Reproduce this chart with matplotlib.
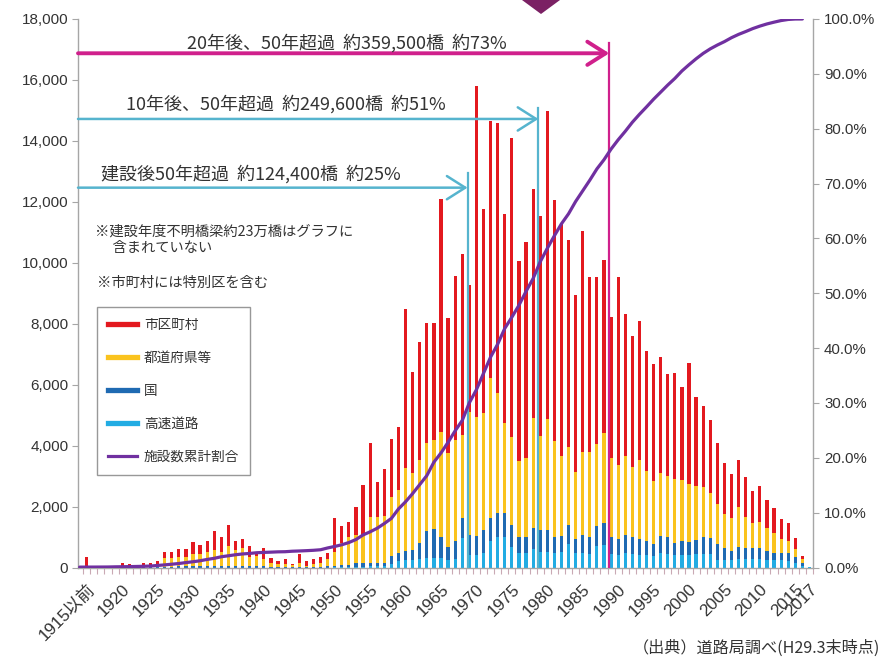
import numpy as np
import matplotlib
matplotlib.use('Agg')
import matplotlib.pyplot as plt
from matplotlib.lines import Line2D
from matplotlib.patches import Polygon

# ---------------- data ----------------
categories = ['1915以前'] + [str(y) for y in range(1916, 2018)]

# 市区町村
municipal = [325, 15, 12, 20, 26, 90, 65, 50, 90, 100,
             135, 220, 200, 255, 255, 410, 300, 350, 635, 490,
             679, 295, 295, 350, 90, 360, 162, 108, 155, 33,
             305, 163, 170, 197, 195, 1095, 567, 488, 928, 1643,
             2427, 1147, 1530, 1880, 2065, 5220, 3315, 3860, 3940, 3850,
             7638, 4432, 5380, 5950, 4157, 10861, 6684, 8455, 8863, 6858,
             9792, 6565, 7086, 7513, 7219, 10116, 7898, 7630, 6785, 5800,
             7245, 5745, 5502, 5666, 4646, 6181, 4650, 4288, 4572, 3938,
             3821, 3788, 3347, 3478, 3042, 3960, 2930, 2668, 2386, 1992,
             1664, 1454, 1552, 1293, 1070, 1172, 929, 821, 657, 581,
             381, 118, 10]
# 都道府県等
prefecture = [10, 5, 4, 6, 8, 35, 30, 20, 35, 45,
              70, 270, 290, 320, 320, 400, 400, 475, 525, 470,
              656, 525, 580, 315, 337, 235, 113, 95, 95, 67,
              118, 45, 80, 113, 250, 460, 723, 930, 929, 929,
              1518, 1518, 1530, 1948, 2058, 2703, 2535, 2735, 2897, 2932,
              3447, 3085, 3305, 2735, 4046, 3904, 3851, 4595, 3938, 2932,
              2898, 2514, 2594, 3611, 3086, 3634, 3171, 2636, 2570, 2220,
              2733, 2809, 2681, 2974, 2593, 2439, 2593, 2319, 2603, 2297,
              2078, 2078, 2012, 2101, 1992, 1893, 1773, 1622, 1497, 1313,
              1126, 1063, 1293, 1037, 821, 873, 734, 636, 459, 404,
              243, 111, 8]
# 国
national = [10, 5, 4, 4, 6, 15, 10, 10, 15, 15,
            20, 30, 30, 35, 35, 40, 40, 45, 50, 50,
            60, 50, 50, 40, 40, 35, 25, 20, 20, 15,
            20, 15, 20, 25, 40, 50, 55, 62, 108, 108,
            110, 110, 110, 277, 287, 306, 329, 527, 876, 931,
            710, 437, 612, 655, 667, 625, 764, 735, 767, 800,
            712, 525, 544, 689, 711, 711, 525, 534, 624, 459,
            601, 541, 662, 700, 541, 505, 587, 541, 505, 460,
            391, 554, 541, 394, 460, 427, 472, 567, 515, 521,
            380, 302, 413, 360, 360, 360, 302, 236, 236, 256,
            204, 98, 7]
# 高速道路
expressway = [0, 0, 0, 0, 0, 0, 0, 0, 0, 0,
              0, 0, 0, 0, 0, 0, 0, 0, 0, 0,
              0, 0, 0, 0, 0, 0, 0, 0, 0, 0,
              0, 0, 0, 0, 0, 10, 15, 20, 30, 30,
              40, 40, 50, 100, 200, 246, 246, 268, 322, 322,
              300, 246, 268, 960, 400, 420, 466, 880, 1012, 1000,
              683, 466, 466, 597, 519, 519, 466, 500, 771, 466,
              466, 450, 700, 750, 450, 420, 480, 450, 420, 420,
              380, 480, 450, 400, 420, 420, 430, 443, 443, 250,
              250, 250, 270, 270, 270, 270, 250, 250, 230, 210,
              150, 60, 5]

series_names = ['市区町村', '都道府県等', '国', '高速道路']
line_name = '施設数累計割合'
tick_labels = ['1915以前'] + [str(y) for y in range(1920, 2020, 5)] + ['2017']
left_ticks = list(range(0, 18001, 2000))
right_ticks = list(range(0, 101, 10))

notes = [
    ('20年後、50年超過  約359,500橋  約73%', '1989'),
    ('10年後、50年超過  約249,600橋  約51%', '1979'),
    ('建設後50年超過  約124,400橋  約25%', '1969'),
]
source_text = '（出典）道路局調べ(H29.3末時点)'
footnote1 = '※建設年度不明橋梁約23万橋はグラフに\n　 含まれていない'
footnote2 = '※市町村には特別区を含む'

# ---------------- style ----------------
C_RED = '#E3191F'
C_YEL = '#FAC31E'
C_BLU = '#1F6AB2'
C_LBL = '#22ACE3'
C_PUR = '#7030A0'
C_MAG = '#D0208C'
C_CYN = '#56B4CE'
GRAY = '#A6A6A6'
TXT = '#333333'
NUMFONT = ['Liberation Sans', 'Noto Sans CJK JP']
JPFONT = ['Noto Sans CJK JP', 'DejaVu Sans']

plt.rcParams['font.family'] = NUMFONT

W, H = 884, 659
fig = plt.figure(figsize=(W / 100, H / 100), dpi=100)
fig.patch.set_facecolor('white')

L, R, B, T = 78, 813, 567.5, 19
ax = fig.add_axes([L / W, 1 - B / H, (R - L) / W, (B - T) / H])
ax2 = ax.twinx()   # drawn above ax: line over the bars

x = np.arange(len(categories))
mun = np.array(municipal, float)
pref = np.array(prefecture, float)
nat = np.array(national, float)
exp_ = np.array(expressway, float)

bw = 0.45
ax.bar(x, exp_, bw, color=C_LBL, linewidth=0, zorder=2)
ax.bar(x, nat, bw, bottom=exp_, color=C_BLU, linewidth=0, zorder=2)
ax.bar(x, pref, bw, bottom=exp_ + nat, color=C_YEL, linewidth=0, zorder=2)
ax.bar(x, mun, bw, bottom=exp_ + nat + pref, color=C_RED, linewidth=0, zorder=2)

total = mun + pref + nat + exp_
cum_share = np.cumsum(total) / total.sum() * 100
ax2.plot(x - 1, cum_share, color=C_PUR, lw=2.3, zorder=3, solid_capstyle='round')

ax.set_xlim(-1.23, 102.44)
ax.set_ylim(0, 18000)
ax2.set_ylim(0, 100)

for a in (ax, ax2):
    a.spines['top'].set_visible(False)
    for s in ('left', 'right', 'bottom'):
        a.spines[s].set_color(GRAY)
        a.spines[s].set_linewidth(1.0)
ax.spines['right'].set_visible(False)
ax2.spines['left'].set_visible(False)
ax2.spines['bottom'].set_visible(False)

ax.set_yticks(left_ticks)
ax.set_yticklabels([f'{v:,}' for v in left_ticks])
ax.tick_params(axis='y', length=4, color=GRAY, labelsize=11, labelcolor=TXT, pad=3)
ax2.set_yticks(right_ticks)
ax2.set_yticklabels([f'{v:.1f}%' for v in right_ticks])
ax2.tick_params(axis='y', length=4, color=GRAY, labelsize=10.8, labelcolor=TXT, pad=4)

tick_pos = [categories.index(t) for t in tick_labels]
ax.set_xticks(tick_pos)
ax.set_xticklabels(tick_labels, rotation=45, ha='right', rotation_mode='anchor',
                   fontsize=12.3, color=TXT)
ax.tick_params(axis='x', which='major', length=0, pad=10)
ax.set_xticks(np.arange(-0.5, len(categories), 1.0), minor=True)
ax.tick_params(axis='x', which='minor', length=4, color='#C9A9B4', width=0.8)

# annotation arrows
y_arrow = {'1989': 16875, '1979': 14720, '1969': 12465}
y_text = {'1989': 17215, '1979': 15212, '1969': 12915}
y_vtop = {'1989': 17215, '1979': 15080, '1969': 12958}
x_text = {'1989': 36.7, '1979': 28.05, '1969': 23.1}
for txt, yr in notes:
    xi = categories.index(yr) - 0.25
    col = C_MAG if yr == '1989' else C_CYN
    lw_a = 2.8 if yr == '1989' else 1.8
    ax.plot([xi, xi], [0, y_vtop[yr]], color=col, lw=1.6, zorder=4)
    ax.annotate('', xy=(xi, y_arrow[yr]), xycoords='data',
                xytext=(0.0, y_arrow[yr]), textcoords=('axes fraction', 'data'),
                arrowprops=dict(arrowstyle='->,head_length=0.6,head_width=0.38',
                                color=col, lw=lw_a, shrinkA=0, shrinkB=0,
                                mutation_scale=22),
                zorder=5, annotation_clip=False)
    ax.text(x_text[yr], y_text[yr], txt, ha='center', va='center',
            fontsize=13, color=TXT, family=JPFONT, zorder=6)

# footnotes
fig.text(95 / W, 1 - 240 / H, footnote1, ha='left', va='center', fontsize=10.3,
         color=TXT, family=JPFONT, linespacing=1.25)
fig.text(97 / W, 1 - 283 / H, footnote2, ha='left', va='center', fontsize=10.3,
         color=TXT, family=JPFONT)

# legend
handles = [Line2D([], [], color=C_RED, lw=3.8),
           Line2D([], [], color=C_YEL, lw=3.8),
           Line2D([], [], color=C_BLU, lw=3.8),
           Line2D([], [], color=C_LBL, lw=3.8),
           Line2D([], [], color=C_PUR, lw=2.3)]
leg = ax2.legend(handles, series_names + [line_name], loc='upper left',
                 bbox_to_anchor=(97 / W, 1 - 307 / H), bbox_transform=fig.transFigure,
                 borderaxespad=0, fancybox=False, frameon=True, edgecolor='#7F7F7F',
                 prop={'family': JPFONT, 'size': 9.8}, handlelength=2.15,
                 handletextpad=0.5, labelspacing=1.4, borderpad=0.8)
leg.get_frame().set_linewidth(1.0)
leg.set_zorder(10)
for t in leg.get_texts():
    t.set_color(TXT)

# decorative mark at the top and source
fig.patches.append(Polygon([(522 / W, 1.0), (560 / W, 1.0), (541 / W, 1 - 14 / H)],
                           closed=True, transform=fig.transFigure,
                           facecolor='#7B2164', edgecolor='none'))
fig.text(880 / W, 1 - 648 / H, source_text, ha='right', va='center', fontsize=11.6,
         color=TXT, family=JPFONT)

fig.savefig('out.png', dpi=100)
